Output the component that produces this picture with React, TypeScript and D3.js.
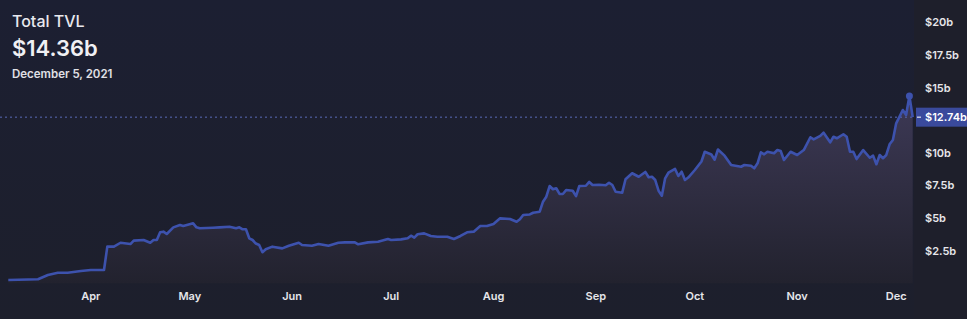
import React from "react";
import * as d3 from "d3";

const dates = [
  "2021-03-07","2021-03-16","2021-03-19","2021-03-22","2021-03-25","2021-03-29",
  "2021-04-01","2021-04-05","2021-04-06","2021-04-08","2021-04-10","2021-04-13","2021-04-14","2021-04-17","2021-04-19","2021-04-20","2021-04-21","2021-04-22","2021-04-23","2021-04-24","2021-04-26","2021-04-28","2021-04-29",
  "2021-05-02","2021-05-03","2021-05-04","2021-05-08","2021-05-10","2021-05-13","2021-05-15","2021-05-16","2021-05-17","2021-05-18","2021-05-19","2021-05-20","2021-05-21","2021-05-22","2021-05-23","2021-05-24","2021-05-26","2021-05-29","2021-05-31",
  "2021-06-03","2021-06-04","2021-06-07","2021-06-09","2021-06-12","2021-06-15","2021-06-17","2021-06-20","2021-06-21","2021-06-24","2021-06-27","2021-06-30",
  "2021-07-01","2021-07-04","2021-07-06","2021-07-07","2021-07-08","2021-07-09","2021-07-11","2021-07-13","2021-07-15","2021-07-18","2021-07-20","2021-07-22","2021-07-24","2021-07-26","2021-07-28","2021-07-30",
  "2021-08-01","2021-08-03","2021-08-06","2021-08-08","2021-08-09","2021-08-10","2021-08-12","2021-08-13","2021-08-15","2021-08-16","2021-08-17","2021-08-18","2021-08-19","2021-08-20","2021-08-21","2021-08-22","2021-08-23","2021-08-25","2021-08-26","2021-08-27","2021-08-29","2021-08-30","2021-08-31",
  "2021-09-02","2021-09-04","2021-09-05","2021-09-06","2021-09-07","2021-09-09","2021-09-10","2021-09-12","2021-09-14","2021-09-16","2021-09-17","2021-09-18","2021-09-19","2021-09-20","2021-09-21","2021-09-22","2021-09-23","2021-09-25","2021-09-26","2021-09-27","2021-09-28","2021-09-29",
  "2021-10-01","2021-10-03","2021-10-04","2021-10-06","2021-10-07","2021-10-08","2021-10-10","2021-10-12","2021-10-15","2021-10-16","2021-10-18","2021-10-19","2021-10-20","2021-10-21","2021-10-22","2021-10-23","2021-10-25","2021-10-26","2021-10-27","2021-10-28","2021-10-30",
  "2021-11-01","2021-11-03","2021-11-05","2021-11-06","2021-11-08","2021-11-09","2021-11-11","2021-11-12","2021-11-13","2021-11-15","2021-11-16","2021-11-17","2021-11-18","2021-11-19","2021-11-21","2021-11-23","2021-11-24","2021-11-25","2021-11-26","2021-11-27","2021-11-28","2021-11-29","2021-11-30",
  "2021-12-01","2021-12-03","2021-12-04","2021-12-05","2021-12-06"
];

const tvl = [
  0.25,0.31,0.64,0.81,0.81,0.94,
  1.02,1.02,2.81,2.81,3.11,3.01,3.27,3.32,3.11,3.32,3.32,3.91,3.96,3.78,4.29,4.47,4.39,
  4.60,4.29,4.22,4.26,4.29,4.34,4.22,4.29,4.14,4.14,3.45,3.32,3.05,2.94,2.38,2.61,2.81,2.68,2.88,
  3.11,2.94,2.88,3.01,2.88,3.11,3.14,3.14,2.99,3.14,3.19,3.40,
  3.32,3.37,3.45,3.65,3.50,3.76,3.83,3.63,3.57,3.57,3.40,3.63,3.91,3.96,4.39,4.39,
  4.55,4.98,4.93,4.72,4.91,5.24,5.28,5.41,5.49,6.26,6.64,7.46,7.21,7.29,6.85,6.85,7.15,7.10,6.69,7.46,7.48,7.77,7.54,
  7.56,7.52,7.71,7.54,7.02,6.95,7.98,8.44,8.17,8.54,8.13,8.17,7.92,7.10,6.72,8.05,8.48,8.77,8.23,8.56,7.92,8.11,
  8.69,9.34,10.09,9.88,9.48,10.26,9.79,9.07,8.94,9.07,9.02,8.82,9.20,10.05,9.89,10.09,9.97,10.22,10.15,9.46,10.09,
  9.84,10.22,11.20,11.04,11.30,11.55,10.81,11.24,11.12,11.43,11.24,10.09,10.09,9.53,10.22,9.63,9.79,9.13,9.84,9.59,9.84,10.66,10.99,
  12.27,13.29,12.91,14.36,12.74
];

const yTicks = [2.5, 5, 7.5, 10, 12.5, 15, 17.5, 20];
const yTickLabels = ["$2.5b", "$5b", "$7.5b", "$10b", "$12.5b", "$15b", "$17.5b", "$20b"];
const title = "Total TVL";
const headlineValue = "$14.36b";
const headlineDate = "December 5, 2021";
const hoverDate = "2021-12-05";
const lastLabel = "$12.74b";

const W = 967;
const H = 319;
const FONT = "Inter, 'Noto Sans', sans-serif";

export default function App() {
  const parse = d3.timeParse("%Y-%m-%d");
  const data = dates.map((d, i) => ({ date: parse(d) as Date, value: tvl[i] }));
  const x = d3
    .scaleTime()
    .domain([data[0].date, data[data.length - 1].date])
    .range([8.3, 912.7]);
  const y = d3.scaleLinear().domain([0, 20]).range([283.3, 22.5]);

  const line = d3
    .line<{ date: Date; value: number }>()
    .x((d) => x(d.date))
    .y((d) => y(d.value))
    .curve(d3.curveLinear);
  const area = d3
    .area<{ date: Date; value: number }>()
    .x((d) => x(d.date))
    .y0(y(0))
    .y1((d) => y(d.value));

  const months = d3.timeMonth.range(d3.timeMonth.ceil(data[0].date), data[data.length - 1].date);
  const fmt = d3.timeFormat("%b");
  const last = data[data.length - 1];
  const hover = data.find((d) => d3.timeFormat("%Y-%m-%d")(d.date) === hoverDate)!;
  const lastY = y(last.value);
  const plotRight = 914;

  return (
    <div style={{ position: "absolute", left: 0, top: 0, width: W, height: H }}>
      <svg width={W} height={H} style={{ display: "block", fontFamily: FONT }}>
        <defs>
          <linearGradient id="bg" x1="0" y1="0" x2="0" y2="1">
            <stop offset="0%" stopColor="#1c1f32" />
            <stop offset="100%" stopColor="#1d1f2c" />
          </linearGradient>
          <linearGradient id="areaFill" gradientUnits="userSpaceOnUse" x1="0" y1={y(14.4)} x2="0" y2={y(0)}>
            <stop offset="0%" stopColor="#3d3956" />
            <stop offset="100%" stopColor="#22222e" />
          </linearGradient>
        </defs>
        <rect x={0} y={0} width={W} height={H} fill="url(#bg)" />
        <rect x={plotRight} y={0} width={W - plotRight} height={H} fill="#1e1f2b" />

        <path d={area(data) || ""} fill="url(#areaFill)" />
        <line
          x1={0}
          x2={plotRight}
          y1={lastY}
          y2={lastY}
          stroke="#5a6bb8"
          strokeWidth={1}
          strokeDasharray="2,3"
        />
        <path d={line(data) || ""} fill="none" stroke="#3d52ad" strokeWidth={2.6} strokeLinejoin="round" />
        <circle cx={x(hover.date)} cy={y(hover.value)} r={3.5} fill="#3d52ad" />

        {yTicks.map((t, i) =>
          t === 12.5 ? null : (
            <text
              key={t}
              x={925}
              y={y(t)}
              dy="0.35em"
              fill="#e6e6ea"
              fontSize={11}
              fontWeight={600}
            >
              {yTickLabels[i]}
            </text>
          )
        )}

        <rect x={916} y={lastY - 9.5} width={W - 916} height={19} fill="#3a4a9c" />
        <line x1={917} x2={921} y1={lastY} y2={lastY} stroke="#ffffff" strokeWidth={1} />
        <text x={925} y={lastY} dy="0.35em" fill="#ffffff" fontSize={11} fontWeight={600}>
          {lastLabel}
        </text>

        {months.map((m) => (
          <text
            key={m.getTime()}
            x={x(m)}
            y={296}
            dy="0.35em"
            textAnchor="middle"
            fill="#e6e6ea"
            fontSize={11}
            fontWeight={600}
          >
            {fmt(m)}
          </text>
        ))}

        <text x={12} y={27} fill="#e8e8ee" fontSize={16} fontWeight={500}>
          {title}
        </text>
        <text x={12} y={56} fill="#f0f0f4" fontSize={22} fontWeight={600}>
          {headlineValue}
        </text>
        <text x={12} y={77.5} fill="#e0e0e6" fontSize={11.5} fontWeight={600}>
          {headlineDate}
        </text>
      </svg>
    </div>
  );
}
